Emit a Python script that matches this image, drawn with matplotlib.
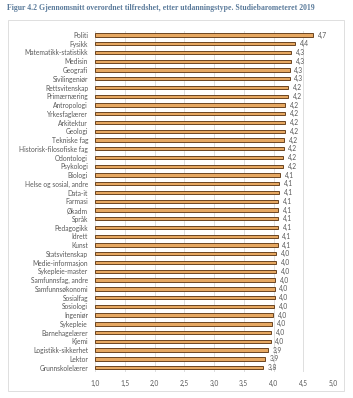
import matplotlib.pyplot as plt
from matplotlib.patches import Rectangle

categories = ['Politi', 'Fysikk', 'Matematikk-statistikk', 'Medisin', 'Geografi',
              'Sivilingeniør', 'Rettsvitenskap', 'Primærnæring', 'Antropologi',
              'Yrkesfaglærer', 'Arkitektur', 'Geologi', 'Tekniske fag',
              'Historisk-filosofiske fag', 'Odontologi', 'Psykologi', 'Biologi',
              'Helse og sosial, andre', 'Data-it', 'Farmasi', 'Økadm', 'Språk',
              'Pedagogikk', 'Idrett', 'Kunst', 'Statsvitenskap', 'Medie-informasjon',
              'Sykepleie-master', 'Samfunnsfag, andre', 'Samfunnsøkonomi', 'Sosialfag',
              'Sosiologi', 'Ingeniør', 'Sykepleie', 'Barnehagelærer', 'Kjemi',
              'Logistikk-sikkerhet', 'Lektor', 'Grunnskolelærer']
values = [4.66, 4.36, 4.29, 4.29, 4.27, 4.27, 4.25, 4.25, 4.20, 4.19, 4.19, 4.19, 4.18,
          4.17, 4.16, 4.16, 4.11, 4.10, 4.10, 4.08, 4.08, 4.08, 4.08, 4.07, 4.07, 4.05,
          4.04, 4.04, 4.03, 4.02, 4.02, 4.01, 3.99, 3.97, 3.96, 3.95, 3.91, 3.86, 3.83]
xticks = [1.0, 1.5, 2.0, 2.5, 3.0, 3.5, 4.0, 4.5, 5.0]

W, H = 353, 398
fig = plt.figure(figsize=(W / 100, H / 100), dpi=100)
plt.rcParams['font.family'] = ['Lato', 'DejaVu Sans']

fig.text(7 / W, 1 - 8 / H, 'Figur 4.2 Gjennomsnitt overordnet tilfredshet, etter utdanningstype. Studiebarometeret 2019',
         family='Liberation Serif', weight='bold', fontsize=5.6, color='#5b7b9b', va='center', ha='left')

# frame around the chart
fig.patches.append(Rectangle((8 / W, 1 - 391 / H), 336 / W, 371 / H, transform=fig.transFigure,
                             fill=False, edgecolor='#d9d9d9', lw=0.6))

ax = fig.add_axes([95 / W, 1 - 372 / H, 238 / W, 341.4 / H])
y = list(range(len(categories)))
ax.barh(y, [v - 1.0 for v in values], left=1.0, height=0.38, color='#e6a862', edgecolor='#6b4420', lw=0.7, zorder=3)
for yi, v in zip(y, values):
    ax.text(v + 0.08, yi, f'{v:.1f}'.replace('.', ','), va='center', ha='left', fontsize=4.8, color='#595959')

ax.set_yticks(y)
ax.set_yticklabels(categories, fontsize=4.8, color='#595959')
ax.set_ylim(len(categories) - 0.5, -0.5)
ax.set_xlim(1.0, 5.0)
ax.set_xticks(xticks)
ax.set_xticklabels([f'{t:.1f}'.replace('.', ',') for t in xticks], fontsize=4.8, color='#595959')
ax.grid(axis='x', color='#d9d9d9', lw=0.6, zorder=0)
for s in ax.spines.values():
    s.set_visible(False)
ax.tick_params(length=0, pad=6)
ax.tick_params(axis='y', pad=5)

fig.savefig('out.png', dpi=100)
